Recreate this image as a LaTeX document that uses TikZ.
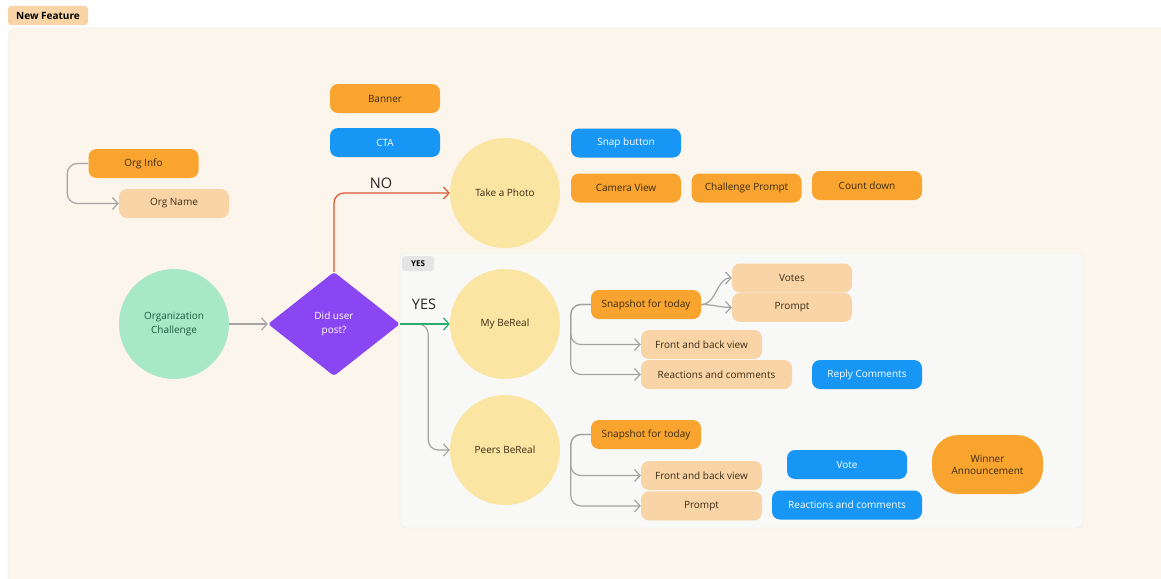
\documentclass[tikz,border=0pt]{standalone}
\usepackage{fontspec}
\setmainfont{Open Sans}
\usepackage{xcolor}
\usetikzlibrary{positioning,shapes.geometric,arrows.meta}

\definecolor{cream}{HTML}{FCF5EC}
\definecolor{frameLine}{HTML}{F1E7DA}
\definecolor{orangeFill}{HTML}{F8A42F}
\definecolor{peachFill}{HTML}{F8D4A6}
\definecolor{blueFill}{HTML}{1896F5}
\definecolor{yellowFill}{HTML}{FBE5A2}
\definecolor{greenFill}{HTML}{A8E8C5}
\definecolor{purpleFill}{HTML}{8B46F4}
\definecolor{panelFill}{HTML}{F8F8F7}
\definecolor{panelLine}{HTML}{ECECEA}
\definecolor{arrowGray}{HTML}{A3A3A3}
\definecolor{noRed}{HTML}{DD5530}
\definecolor{yesGreen}{HTML}{2AAE6B}
\definecolor{inkBrown}{HTML}{3B2A12}
\definecolor{inkGreen}{HTML}{1F5A3C}

\begin{document}
\begin{tikzpicture}[x=1pt, y=-1pt,
        >={Straight Barb[length=5.5pt, width=12pt]},
        box/.style={rounded corners=8pt, minimum width=110pt, minimum height=29pt, inner sep=2pt, font=\fontsize{10}{12}\selectfont},
        orangeBox/.style={box, fill=orangeFill, text=inkBrown},
        peachBox/.style={box, fill=peachFill, text=inkBrown},
        blueBox/.style={box, fill=blueFill, text=white},
        bubble/.style={circle, minimum size=110pt, inner sep=0pt, fill=yellowFill, text=inkBrown, align=center, font=\fontsize{10}{14}\selectfont},
        link/.style={->, draw=arrowGray, line width=1.2pt, rounded corners=10pt},
        tag/.style={rounded corners=3pt, inner sep=0pt},
        answer/.style={font=\fontsize{14.5}{16}\selectfont, text=black!85}
    ]
        \useasboundingbox (0,0) rectangle (1161,578);
        \fill[white] (0,0) rectangle (1161,578);
        \draw[fill=cream, draw=frameLine, rounded corners=8pt] (8,28) rectangle (1175,590);
        \node (newFeature) [tag, fill=peachFill, minimum width=80pt, minimum height=19pt, font=\fontsize{10}{12}\selectfont\bfseries] at (48,15.5) {New Feature};

        % yes panel
        \draw[fill=panelFill, draw=panelLine, rounded corners=6pt] (400,253) rectangle (1083,528);
        \node (yesTag) [tag, fill=black!10, minimum width=32pt, minimum height=15pt, font=\fontsize{8}{10}\selectfont\bfseries] at (418,263.5) {YES};

        % org info
        \node (orgInfo) [orangeBox] at (143.5,163.5) {Org Info};
        \node (orgName) [peachBox] at (174,203.5) {Org Name};
        \draw[link] (orgInfo.west) -- ++(-21,0) |- (orgName.west);

        % main flow
        \node (orgChallenge) [bubble, fill=greenFill, text=inkGreen] at (174,324) {Organization\\Challenge};
        \node (didPost) [diamond, fill=purpleFill, text=white, minimum width=132pt, minimum height=104pt, inner sep=0pt, align=center, rounded corners=3pt, font=\fontsize{10}{14}\selectfont] at (334,324) {Did user\\post?};
        \draw[link] (orgChallenge) -- (didPost);

        % no branch
        \node (banner) [orangeBox] at (385,98.5) {Banner};
        \node (cta) [blueBox] at (385,142.5) {CTA};
        \node (takePhoto) [bubble] at (505,193) {Take a Photo};
        \node (snapButton) [blueBox] at (626,143) {Snap button};
        \node (cameraView) [orangeBox] at (626,188) {Camera View};
        \node (challengePrompt) [orangeBox] at (746.5,188) {Challenge Prompt};
        \node (countDown) [orangeBox] at (867,185.5) {Count down};
        \draw[link, draw=noRed] (didPost.north) |- (takePhoto.west);
        \node (noLabel) [answer] at (381,183) {NO};

        % yes branch
        \node (myBeReal) [bubble] at (505,324) {My BeReal};
        \node (peersBeReal) [bubble] at (505,450) {Peers BeReal};
        \draw[link] (didPost.east) -- ++(28,0) |- (peersBeReal.west);
        \draw[link, draw=yesGreen] (didPost.east) -- (myBeReal.west);
        \node (yesLabel) [answer] at (424,304) {YES};

        % my bereal
        \node (snapMine) [orangeBox] at (646,304.5) {Snapshot for today};
        \node (votes) [peachBox, minimum width=120pt] at (792,278) {Votes};
        \node (promptMine) [peachBox, minimum width=120pt, below=0pt of votes] {Prompt};
        \node (viewMine) [peachBox, minimum width=121pt] at (701.5,344.5) {Front and back view};
        \node (reactMine) [peachBox, minimum width=151pt] at (716.5,374.5) {Reactions and comments};
        \node (replyComments) [blueBox] at (867,374.5) {Reply Comments};
        \draw[link] (snapMine.east) to[out=0, in=180] (votes.west);
        \draw[link] (snapMine.east) to[out=0, in=180] (promptMine.west);
        \foreach \j in {viewMine, reactMine} {
            \draw[link] (snapMine.west) -- ++(-20,0) |- (\j.west);
        }

        % peers bereal
        \node (snapPeers) [orangeBox] at (646,434.5) {Snapshot for today};
        \node (viewPeers) [peachBox, minimum width=121pt] at (701.5,475.5) {Front and back view};
        \node (promptPeers) [peachBox, minimum width=121pt, below=1pt of viewPeers] {Prompt};
        \node (vote) [blueBox, minimum width=120pt] at (847,464.5) {Vote};
        \node (reactPeers) [blueBox, minimum width=150pt] at (847,505) {Reactions and comments};
        \node (winner) [orangeBox, minimum width=111pt, minimum height=59pt, rounded corners=26pt, align=center] at (987.5,464.5) {Winner\\Announcement};
        \foreach \j in {viewPeers, promptPeers} {
            \draw[link] (snapPeers.west) -- ++(-20,0) |- (\j.west);
        }
    \end{tikzpicture}
\end{document}
